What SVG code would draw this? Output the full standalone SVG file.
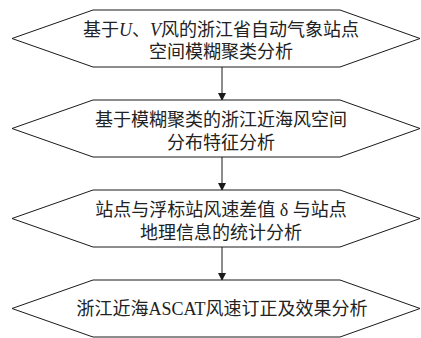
<svg xmlns="http://www.w3.org/2000/svg" width="421" height="338" viewBox="0 0 421 338">
<style>
.box{fill:#fff;stroke:#1a1a1a;stroke-width:1}
.t{font-family:"Liberation Serif","Noto Sans CJK SC",serif;font-size:18px;fill:#222;text-anchor:middle}
.c{stroke:#1a1a1a;stroke-width:1;fill:none}
</style>
<defs>
<marker id="ah" markerWidth="8" markerHeight="10" refX="7" refY="4" orient="auto" markerUnits="userSpaceOnUse" viewBox="0 0 8 8">
<path d="M0,0 L8,4 L0,8 Z" fill="#1a1a1a"/>
</marker>
</defs>
<rect width="421" height="338" fill="#fff"/>
<g id="connectors">
<line class="c" x1="222" y1="67" x2="222" y2="100" marker-end="url(#ah)"/>
<line class="c" x1="222" y1="157" x2="222" y2="190" marker-end="url(#ah)"/>
<line class="c" x1="222" y1="247" x2="222" y2="280" marker-end="url(#ah)"/>
</g>
<g id="n1">
<polygon class="box" points="12,38.5 93,10 340,10 420,38.5 340,67 93,67"/>
<text class="t" x="221" y="36">基于<tspan font-style="italic">U</tspan>、<tspan font-style="italic">V</tspan>风的浙江省自动气象站点</text>
<text class="t" x="221" y="58">空间模糊聚类分析</text>
</g>
<g id="n2">
<polygon class="box" points="12,128.5 93,100 340,100 420,128.5 340,157 93,157"/>
<text class="t" x="221" y="126">基于模糊聚类的浙江近海风空间</text>
<text class="t" x="221" y="149">分布特征分析</text>
</g>
<g id="n3">
<polygon class="box" points="12,218.5 93,190 340,190 420,218.5 340,247 93,247"/>
<text class="t" x="221" y="216" xml:space="preserve">站点与浮标站风速差值 δ 与站点</text>
<text class="t" x="221" y="239">地理信息的统计分析</text>
</g>
<g id="n4">
<polygon class="box" points="12,308.5 93,280 340,280 420,308.5 340,337 93,337"/>
<text class="t" x="222" y="315">浙江近海ASCAT风速订正及效果分析</text>
</g>
</svg>
